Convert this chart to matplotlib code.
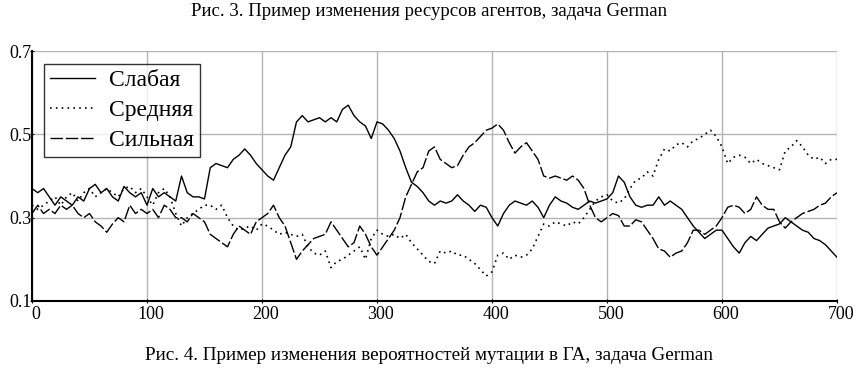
import numpy as np
import matplotlib
matplotlib.use("Agg")
import matplotlib.pyplot as plt
from matplotlib.transforms import ScaledTranslation

plt.rcParams['font.family'] = ['Liberation Serif', 'DejaVu Serif']

# step of the read-off values along x
x_step = 5
x_max = 700

weak = [  # Слабая
    0.37, 0.36, 0.37, 0.35, 0.33, 0.35, 0.34, 0.33, 0.35, 0.34,
    0.37, 0.38, 0.36, 0.37, 0.35, 0.34, 0.375, 0.36, 0.35, 0.36,
    0.33, 0.37, 0.35, 0.36, 0.35, 0.34, 0.40, 0.36, 0.35, 0.35,
    0.345, 0.42, 0.43, 0.425, 0.42, 0.44, 0.45, 0.465, 0.45, 0.43,
    0.415, 0.40, 0.39, 0.42, 0.45, 0.47, 0.53, 0.545, 0.53, 0.535,
    0.54, 0.53, 0.54, 0.53, 0.56, 0.57, 0.545, 0.53, 0.52, 0.49,
    0.53, 0.525, 0.51, 0.49, 0.46, 0.42, 0.385, 0.375, 0.36, 0.34,
    0.33, 0.34, 0.335, 0.34, 0.355, 0.34, 0.33, 0.315, 0.33, 0.325,
    0.30, 0.28, 0.31, 0.33, 0.34, 0.335, 0.33, 0.34, 0.325, 0.30,
    0.33, 0.35, 0.34, 0.335, 0.325, 0.32, 0.33, 0.34, 0.335, 0.34,
    0.345, 0.36, 0.40, 0.385, 0.35, 0.33, 0.325, 0.33, 0.33, 0.35,
    0.33, 0.34, 0.33, 0.32, 0.30, 0.28, 0.265, 0.25, 0.26, 0.27,
    0.27, 0.25, 0.23, 0.215, 0.24, 0.255, 0.245, 0.26, 0.275, 0.28,
    0.285, 0.30, 0.29, 0.28, 0.27, 0.265, 0.25, 0.245, 0.235, 0.22,
    0.205,
]

medium = [  # Средняя
    0.33, 0.32, 0.33, 0.34, 0.35, 0.33, 0.35, 0.36, 0.34, 0.36,
    0.37, 0.35, 0.36, 0.37, 0.36, 0.35, 0.37, 0.375, 0.36, 0.37,
    0.35, 0.33, 0.36, 0.37, 0.35, 0.31, 0.28, 0.30, 0.31, 0.32,
    0.33, 0.33, 0.32, 0.33, 0.30, 0.28, 0.27, 0.275, 0.28, 0.27,
    0.285, 0.28, 0.27, 0.26, 0.265, 0.26, 0.255, 0.26, 0.23, 0.215,
    0.21, 0.22, 0.18, 0.195, 0.20, 0.21, 0.22, 0.23, 0.20, 0.25,
    0.27, 0.26, 0.255, 0.26, 0.25, 0.26, 0.24, 0.225, 0.21, 0.195,
    0.19, 0.22, 0.215, 0.22, 0.21, 0.21, 0.20, 0.19, 0.175, 0.16,
    0.17, 0.21, 0.215, 0.20, 0.21, 0.205, 0.21, 0.225, 0.255, 0.285,
    0.28, 0.29, 0.285, 0.28, 0.29, 0.285, 0.30, 0.32, 0.34, 0.35,
    0.355, 0.34, 0.335, 0.345, 0.37, 0.39, 0.395, 0.41, 0.40, 0.44,
    0.465, 0.46, 0.475, 0.48, 0.47, 0.485, 0.49, 0.50, 0.51, 0.495,
    0.47, 0.43, 0.445, 0.45, 0.445, 0.43, 0.44, 0.43, 0.425, 0.42,
    0.415, 0.46, 0.47, 0.485, 0.47, 0.45, 0.44, 0.445, 0.43, 0.44,
    0.44,
]

strong = [  # Сильная
    0.31, 0.33, 0.31, 0.32, 0.31, 0.33, 0.32, 0.33, 0.31, 0.30,
    0.31, 0.29, 0.28, 0.265, 0.285, 0.30, 0.29, 0.33, 0.31, 0.32,
    0.31, 0.32, 0.30, 0.33, 0.32, 0.30, 0.30, 0.29, 0.31, 0.30,
    0.29, 0.26, 0.25, 0.24, 0.23, 0.26, 0.28, 0.27, 0.26, 0.29,
    0.30, 0.31, 0.33, 0.30, 0.28, 0.24, 0.20, 0.22, 0.235, 0.25,
    0.255, 0.26, 0.29, 0.27, 0.25, 0.23, 0.24, 0.28, 0.26, 0.23,
    0.21, 0.23, 0.25, 0.27, 0.30, 0.35, 0.38, 0.41, 0.42, 0.46,
    0.47, 0.44, 0.43, 0.42, 0.425, 0.45, 0.47, 0.48, 0.495, 0.51,
    0.515, 0.525, 0.51, 0.48, 0.455, 0.47, 0.48, 0.46, 0.44, 0.40,
    0.395, 0.40, 0.395, 0.39, 0.40, 0.39, 0.37, 0.33, 0.30, 0.29,
    0.30, 0.31, 0.305, 0.28, 0.28, 0.295, 0.29, 0.27, 0.25, 0.225,
    0.22, 0.205, 0.215, 0.22, 0.24, 0.27, 0.27, 0.26, 0.27, 0.28,
    0.30, 0.325, 0.33, 0.325, 0.31, 0.32, 0.35, 0.33, 0.32, 0.32,
    0.29, 0.275, 0.29, 0.30, 0.31, 0.315, 0.32, 0.33, 0.335, 0.35,
    0.36,
]

labels = ['Слабая', 'Средняя', 'Сильная']
x_ticks = [0, 100, 200, 300, 400, 500, 600, 700]
y_ticks = [0.1, 0.3, 0.5, 0.7]
title_top = 'Рис. 3. Пример изменения ресурсов агентов, задача German'
caption = 'Рис. 4. Пример изменения вероятностей мутации в ГА, задача German'

x = np.arange(0, x_max + 1, x_step)

fig = plt.figure(figsize=(8.58, 3.70), dpi=100)
ax = fig.add_axes([0.0373, 0.1865, 0.9382, 0.6755])

ax.plot(x, weak, color='black', lw=1.0, ls='-', label=labels[0])
ax.plot(x, medium, color='black', lw=1.2, ls=(0, (1, 2.5)), label=labels[1])
ax.plot(x, strong, color='black', lw=1.0, ls=(0, (9, 2)), label=labels[2])

ax.set_xlim(0, 700)
ax.set_ylim(0.1, 0.7)
ax.set_xticks(x_ticks)
ax.set_yticks(y_ticks)
ax.set_xticklabels([str(v) for v in x_ticks])
ax.set_yticklabels([f'{v:.1f}' for v in y_ticks])
ax.grid(True, color='#b4b4b4', lw=1.0)
ax.set_axisbelow(True)
for s in ['top', 'right']:
    ax.spines[s].set_visible(False)
for s in ['left', 'bottom']:
    ax.spines[s].set_linewidth(1.5)
ax.tick_params(axis='both', labelsize=13, length=3, direction='inout')
ax.tick_params(axis='y', pad=-1)
ax.tick_params(axis='x', pad=2)

# x labels sit a little right of their gridlines in the reference
shift = ScaledTranslation(4 / 100, 0, fig.dpi_scale_trans)
for lab in ax.get_xticklabels():
    lab.set_transform(lab.get_transform() + shift)

leg = ax.legend(loc='upper left', bbox_to_anchor=(0.015, 0.948), fontsize=17,
                frameon=True, fancybox=False, edgecolor='black',
                handlelength=1.9, handletextpad=0.6, borderpad=0.25,
                labelspacing=0.35, borderaxespad=0)
leg.get_frame().set_linewidth(1.0)

fig.text(0.5, 0.968, title_top, ha='center', va='center', fontsize=13.5)
fig.text(0.5, 0.040, caption, ha='center', va='center', fontsize=13.8)

fig.savefig('out.png', dpi=100)
